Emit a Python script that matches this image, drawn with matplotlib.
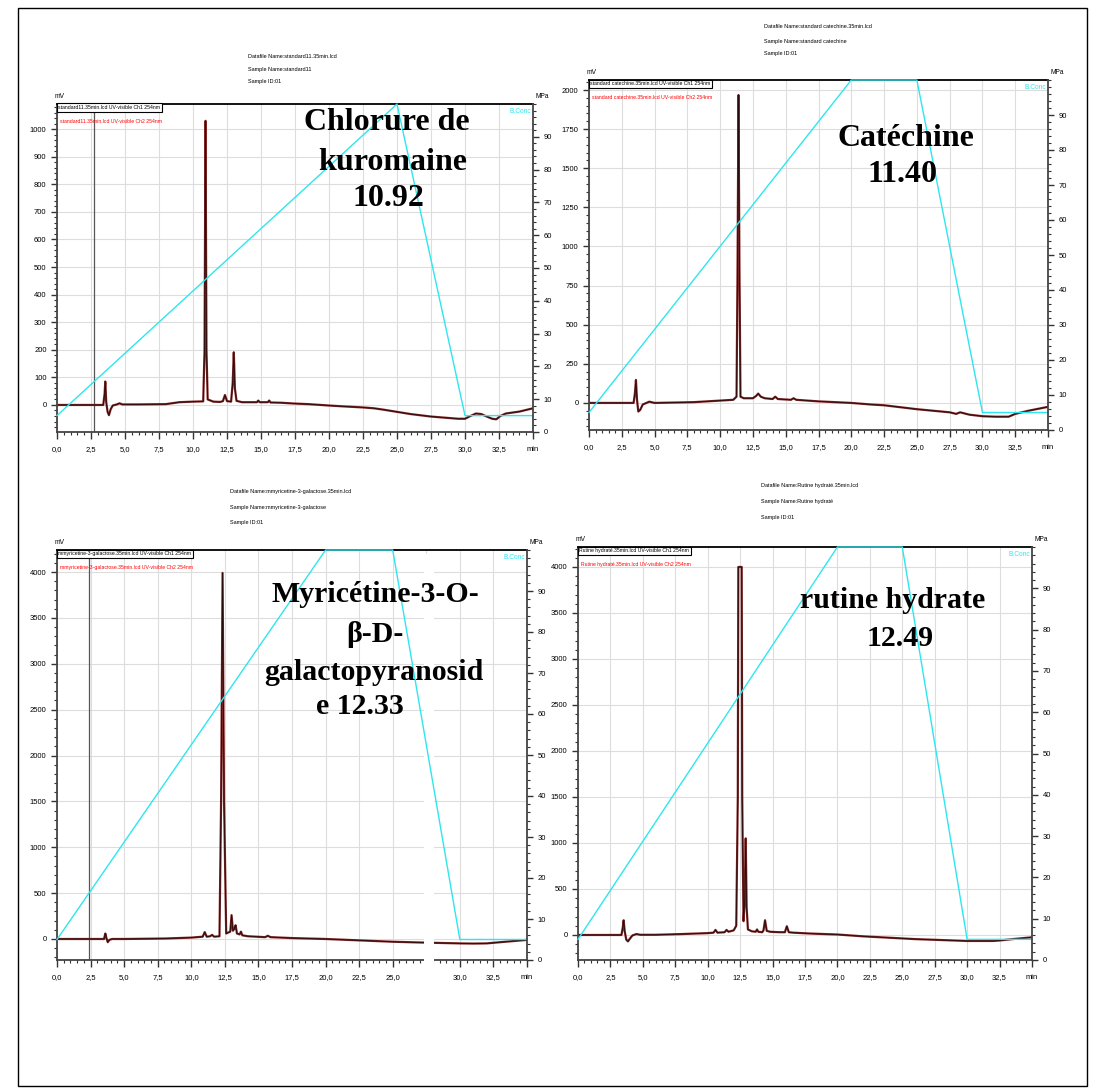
import matplotlib
matplotlib.use("Agg")
import matplotlib.pyplot as plt
from matplotlib.ticker import MultipleLocator, FuncFormatter, FixedLocator
from matplotlib.patches import Rectangle

SMALL = ['Liberation Sans Narrow', 'Liberation Sans', 'DejaVu Sans']
BIG = ['Liberation Serif', 'DejaVu Serif']
CYAN = '#2ee6ee'
W, H = 1099, 1092

# ---- panel 1 : standard11 (chlorure de kuromaine)
p1_t = [0, 3.40, 3.50, 3.55, 3.62, 3.72, 3.82, 3.95, 4.10, 4.40, 4.60, 4.80, 6.0, 8.0, 9.0, 10.0,
        10.75, 10.85, 10.92, 10.99, 11.08, 11.5, 12.0, 12.2, 12.35, 12.5, 12.8, 12.92, 13.0, 13.08,
        13.2, 13.6, 14.0, 14.7, 14.8, 14.9, 15.5, 15.6, 15.7, 16.5, 17.5, 18.5, 20.0, 21.0, 22.5,
        23.3, 24.0, 25.0, 26.0, 27.5, 28.5, 29.5, 30.0, 30.4, 30.8, 31.2, 31.6, 32.0, 32.3, 32.6,
        33.0, 34.0, 35.0]
p1_mv = [0, 0, 40, 85, 10, -25, -37, -15, -2, 2, 6, 2, 2, 3, 10, 12,
         13, 200, 1030, 200, 20, 12, 11, 14, 36, 14, 12, 80, 191, 60,
         15, 10, 10, 10, 16, 10, 10, 16, 9, 8, 5, 3, -2, -5, -9,
         -12, -17, -25, -33, -42, -46, -50, -50, -40, -31, -33, -42, -50, -52, -40,
         -31, -24, -12]
p1_grad_t = [0, 25, 30, 35]
p1_grad_v = [5, 100, 5, 5]

# ---- panel 2 : standard catechine
p2_t = [0, 3.4, 3.5, 3.58, 3.66, 3.76, 3.9, 4.1, 4.6, 5, 8, 10, 11.0, 11.25, 11.33, 11.40, 11.47,
        11.55, 11.8, 12.5, 12.75, 12.9, 13.1, 13.4, 14.0, 14.2, 14.4, 15.4, 15.6, 15.8, 17.5, 20,
        21.5, 22.5, 25, 27.5, 28.0, 28.3, 29, 30, 31, 32, 32.5, 33.5, 35]
p2_mv = [0, 0, 60, 147, 20, -55, -45, -10, 8, 0, 5, 15, 20, 40, 900, 1968, 900,
         40, 30, 30, 45, 60, 40, 30, 25, 40, 25, 20, 30, 20, 10, 0,
         -10, -15, -40, -60, -70, -60, -75, -85, -88, -88, -70, -50, -25]
p2_grad_t = [0, 20, 25, 30, 35]
p2_grad_v = [5, 100, 100, 5, 5]

# ---- panel 3 : myricetine-3-galactose
p3_t = [0, 3.5, 3.6, 3.68, 3.78, 3.9, 4.1, 5, 8, 10, 10.85, 11.0, 11.15, 11.4, 11.55, 11.7, 12.1,
        12.22, 12.33, 12.44, 12.6, 12.9, 13.0, 13.1, 13.2, 13.3, 13.4, 13.6, 13.7, 13.8, 14.2, 15.5,
        15.7, 15.9, 17.5, 20, 22.5, 25, 27.5, 30, 31, 32, 33, 35]
p3_mv = [0, 0, 60, 10, -35, -10, 0, 0, 5, 15, 25, 75, 25, 30, 45, 25, 30,
         1500, 3990, 1500, 60, 80, 260, 90, 110, 150, 60, 50, 80, 40, 30, 20,
         35, 20, 10, 0, -15, -30, -40, -48, -50, -48, -35, -10]
p3_grad_t = [0, 20, 25, 30, 35]
p3_grad_v = [5, 100, 100, 5, 5]

# ---- panel 4 : rutine hydrate
p4_t = [0, 3.35, 3.45, 3.52, 3.60, 3.72, 3.85, 4.0, 4.2, 4.5, 4.8, 6, 8, 10, 10.45, 10.6, 10.75,
        11.3, 11.45, 11.6, 12.0, 12.2, 12.32, 12.36, 12.62, 12.66, 12.76, 12.86, 12.93, 13.0, 13.1,
        13.4, 13.7, 13.8, 13.9, 14.2, 14.3, 14.42, 14.55, 14.8, 15.5, 15.95, 16.1, 16.25, 16.6, 18,
        20, 22, 24, 26, 28, 30, 32, 32.5, 33.5, 35]
p4_mv = [0, 0, 80, 160, 40, -50, -70, -40, -5, 10, 2, 2, 10, 20, 25, 55, 25,
         30, 55, 35, 50, 100, 1500, 4000, 4000, 1500, 150, 400, 1050, 300, 60,
         40, 35, 60, 35, 30, 50, 160, 45, 35, 30, 30, 95, 30, 25, 15,
         5, -15, -30, -45, -55, -65, -65, -60, -45, -25]
p4_grad_t = [0, 20, 25, 30, 35]
p4_grad_v = [5, 100, 100, 5, 5]


def make_xfmt(hidden):
    def xfmt(v, pos):
        if abs(v - 35) < 1e-6:
            return 'min'
        if hidden is not None and hidden[0] <= v <= hidden[1]:
            return ''
        return f"{v:.1f}".replace('.', ',')
    return xfmt


def panel(fig, box, t, mv, gt, gv, ylim, ymin_, yticks, name, vline=None, gap=None):
    l, top, r, b = box
    ax = fig.add_axes([l / W, 1 - b / H, (r - l) / W, (b - top) / H])
    ax.set_xlim(0, 35)
    ax.set_ylim(*ylim)
    ax.grid(True, color='#dddddd', lw=0.8)
    ax.set_axisbelow(True)
    if vline is not None:
        ax.axvline(vline, color='#555555', lw=0.9)
    ax.plot(t, mv, color='#7d2525', lw=1.6, solid_joinstyle='round')
    ax.plot(t, mv, color='black', lw=0.6, alpha=0.7)

    ax.xaxis.set_major_locator(MultipleLocator(2.5))
    ax.xaxis.set_minor_locator(MultipleLocator(0.5))
    ax.xaxis.set_major_formatter(FuncFormatter(make_xfmt(gap)))
    ax.yaxis.set_major_locator(FixedLocator(yticks))
    ax.yaxis.set_minor_locator(MultipleLocator(ymin_))
    ax.tick_params(axis='both', which='major', labelsize=5.5, length=4, width=1, color='#333333')
    ax.tick_params(axis='both', which='minor', length=2, width=0.8, color='#333333')
    ax.tick_params(axis='x', which='major', length=5, pad=5)
    for lab in ax.get_xticklabels() + ax.get_yticklabels():
        lab.set_family(SMALL)
    for s in ('left', 'bottom'):
        ax.spines[s].set_color('#444444')
        ax.spines[s].set_linewidth(1.3)
    ax.spines['top'].set_color('black')
    ax.spines['top'].set_linewidth(1.3)
    ax.spines['right'].set_visible(False)

    ax.annotate('mV', xy=(0, 1), xycoords='axes fraction', xytext=(-2, 3),
                textcoords='offset points', fontsize=4.8, family=SMALL, ha='left', va='bottom')
    ax.text(0.003, 0.997, f"{name}.35min.lcd UV-visible Ch1 254nm", transform=ax.transAxes,
            fontsize=3.7, family=SMALL, ha='left', va='top', zorder=5,
            bbox=dict(boxstyle='square,pad=0.3', fc='white', ec='black', lw=0.8))
    ax.annotate(f"{name}.35min.lcd UV-visible Ch2 254nm", xy=(0.003, 1), xycoords='axes fraction',
                xytext=(1, -10.5), textcoords='offset points', fontsize=3.7, family=SMALL,
                color='red', ha='left', va='top', zorder=5)

    if gap is not None:
        # broken time axis: blank strip over trace, grid and bottom axis
        ax.add_patch(Rectangle((gap[0], -0.08), gap[1] - gap[0], 1.07,
                               transform=ax.get_xaxis_transform(), fc='white', ec='none',
                               zorder=4, clip_on=False))

    ax2 = ax.twinx()
    ax2.set_ylim(0, 100)
    ax2.plot(gt, gv, color=CYAN, lw=1.0, clip_on=False)
    ax2.yaxis.set_major_locator(FixedLocator(range(0, 100, 10)))
    ax2.yaxis.set_minor_locator(MultipleLocator(2))
    ax2.tick_params(axis='y', which='major', labelsize=5.5, length=4, width=1, color='#333333')
    ax2.tick_params(axis='y', which='minor', length=2, width=0.8, color='#333333')
    for lab in ax2.get_yticklabels():
        lab.set_family(SMALL)
    for s in ('left', 'top', 'bottom'):
        ax2.spines[s].set_visible(False)
    ax2.spines['right'].set_color('#444444')
    ax2.spines['right'].set_linewidth(1.3)
    ax2.annotate('MPa', xy=(1, 1), xycoords='axes fraction', xytext=(2, 3),
                 textcoords='offset points', fontsize=4.8, family=SMALL, ha='left', va='bottom')
    ax2.annotate('B.Conc', xy=(1, 1), xycoords='axes fraction', xytext=(-1, -3),
                 textcoords='offset points', fontsize=4.8, family=SMALL, color=CYAN,
                 ha='right', va='top')
    return ax


fig = plt.figure(figsize=(W / 100, H / 100), dpi=100)

panel(fig, (57, 104, 533, 432), p1_t, p1_mv, p1_grad_t, p1_grad_v, (-98, 1091), 20,
      range(-100, 1001, 100), 'standard11', vline=2.7)
panel(fig, (589, 80, 1048, 430), p2_t, p2_mv, p2_grad_t, p2_grad_v, (-173, 2064), 50,
      range(0, 2001, 250), 'standard catechine')
panel(fig, (57, 550, 527, 960), p3_t, p3_mv, p3_grad_t, p3_grad_v, (-229, 4240), 100,
      range(0, 4001, 500), 'mmyricetine-3-galactose', vline=2.4, gap=(27.3, 28.1))
panel(fig, (578, 547, 1032, 960), p4_t, p4_mv, p4_grad_t, p4_grad_v, (-272, 4217), 100,
      range(0, 4001, 500), 'Rutine hydraté')

headers = [
    (248, (57, 70, 82), ['Datafile Name:standard11.35min.lcd', 'Sample Name:standard11', 'Sample ID:01']),
    (764, (27, 41, 54), ['Datafile Name:standard catechine.35min.lcd', 'Sample Name:standard catechine',
                         'Sample ID:01']),
    (230, (492, 507, 522), ['Datafile Name:mmyricetine-3-galactose.35min.lcd',
                            'Sample Name:mmyricetine-3-galactose', 'Sample ID:01']),
    (761, (485, 502, 518), ['Datafile Name:Rutine hydraté.35min.lcd', 'Sample Name:Rutine hydraté',
                            'Sample ID:01']),
]
for x, ys, lines in headers:
    for y, s in zip(ys, lines):
        fig.text(x / W, 1 - y / H, s, fontsize=4.0, family=SMALL, ha='left', va='center')

labels = [
    ("Chlorure de", 387, 123, 23), ("kuromaine", 393, 163, 23), ("10.92", 388, 199, 23),
    ("Catéchine", 906, 138, 23), ("11.40", 902, 175, 23),
    ("Myricétine-3-O-", 375, 595, 21.5), ("β-D-", 375, 634, 21.5),
    ("galactopyranosid", 374, 673, 21.5), ("e 12.33", 360, 707, 21.5),
    ("rutine hydrate", 893, 601, 21.5), ("12.49", 900, 638, 21.5),
]
for s, x, y, fs in labels:
    fig.text(x / W, 1 - y / H, s, fontsize=fs, family=BIG, fontweight='bold',
             ha='center', va='center', zorder=30)

fig.patches.append(Rectangle((18 / W, 1 - 1086 / H), (1087 - 18) / W, (1086 - 8) / H,
                             transform=fig.transFigure, fill=False, ec='black', lw=1.0))

fig.savefig('out.png', dpi=100)
